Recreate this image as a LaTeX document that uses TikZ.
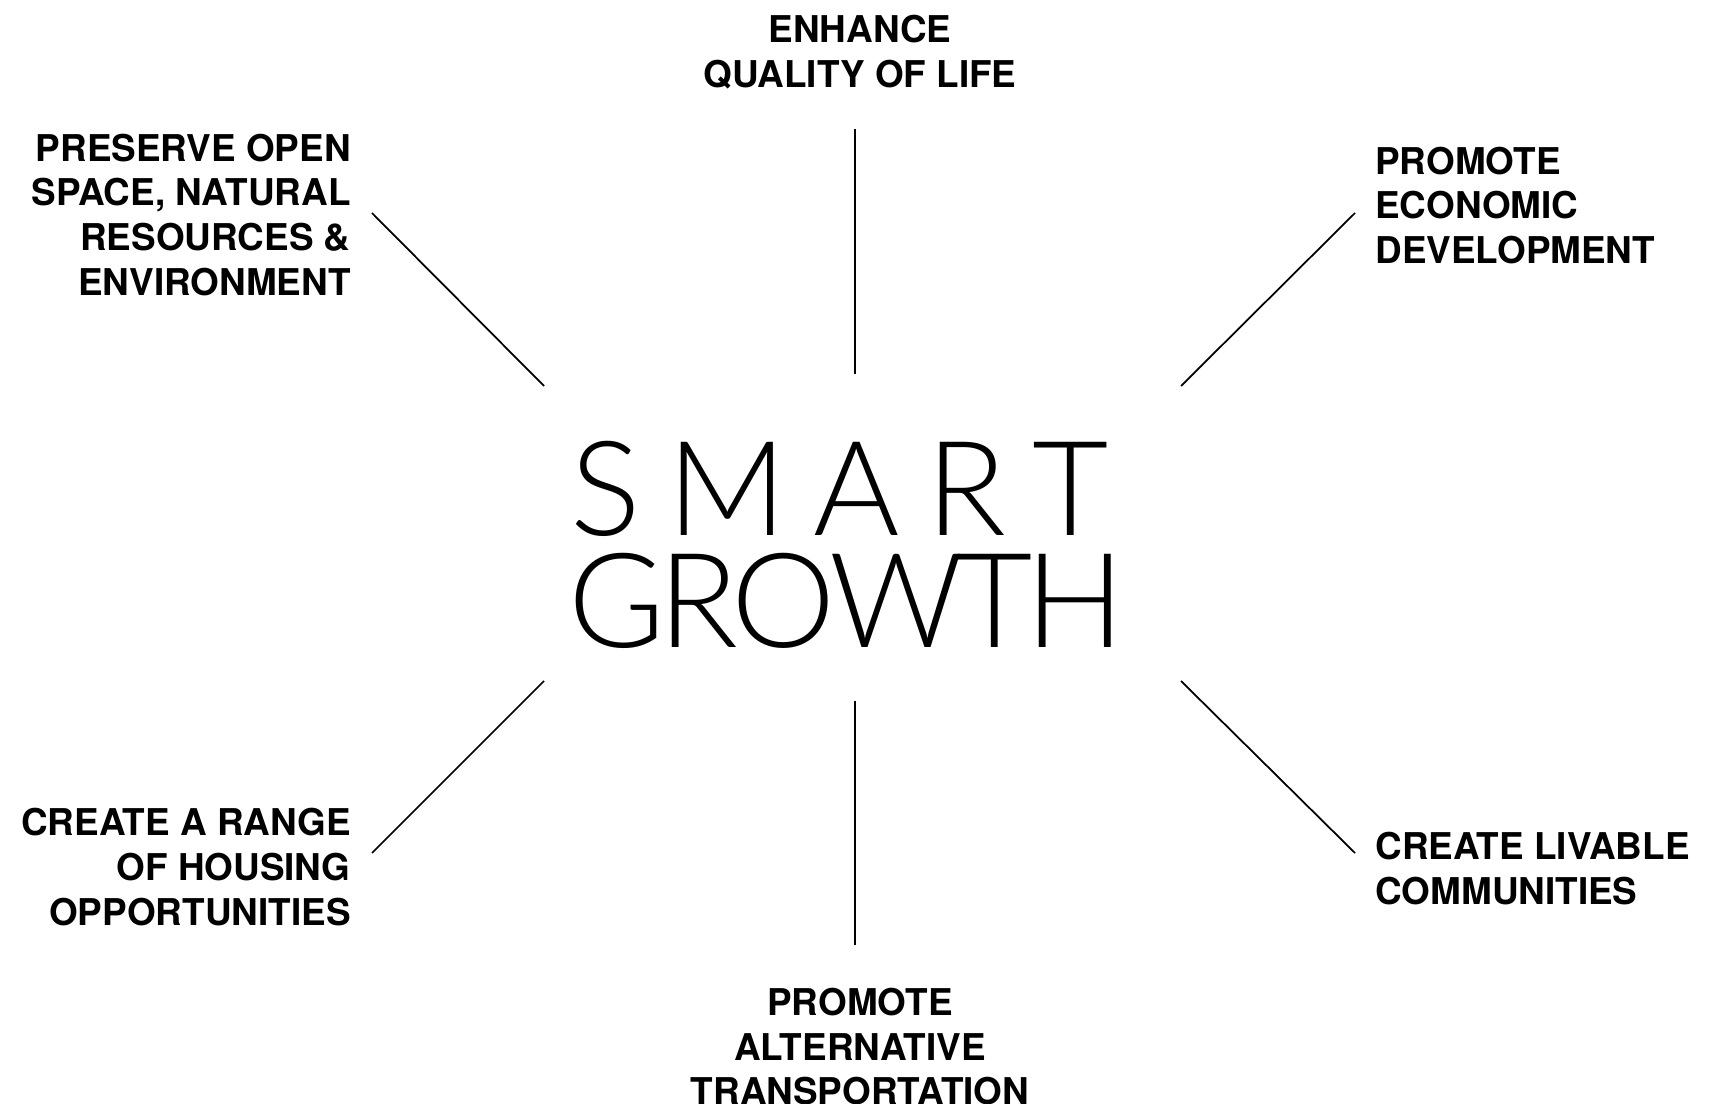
\documentclass[tikz,border=0pt]{standalone}
\usepackage{fontspec}
\setmainfont{TeX Gyre Heros}
\newfontfamily\thinfont{Lato Light}
\newcommand\gsp{\hspace{0pt plus 1fil minus 1fil}}
\begin{document}
\begin{tikzpicture}[x=0.02cm,y=-0.02cm]
\tikzset{
 goal/.style={font=\fontsize{21.0}{25.5}\selectfont\bfseries, inner sep=0pt},
 ray/.style={line width=1pt, black},
 title/.style={font=\thinfont\fontsize{75}{63.5}\selectfont, inner sep=0pt, anchor=base west}
}
\useasboundingbox[fill=white] (0,0) rectangle (1715,1104);
% goals
\node[goal, anchor=north, align=center] (top) at (860,15.3) {ENHANCE\\QUALITY OF LIFE};
\node[goal, anchor=north east, align=right] (ul) at (351,133.4) {PRESERVE OPEN\\SPACE, NATURAL\\RESOURCES \&\\ENVIRONMENT};
\node[goal, anchor=north west, align=left] (ur) at (1375,146.5) {PROMOTE\\ECONOMIC\\DEVELOPMENT};
\node[goal, anchor=north east, align=right] (ll) at (351,808.3) {CREATE A RANGE\\OF HOUSING\\OPPORTUNITIES};
\node[goal, anchor=north west, align=left] (lr) at (1375,832.3) {CREATE LIVABLE\\COMMUNITIES};
\node[goal, anchor=north, align=center] (bot) at (860,987.7) {PROMOTE\\ALTERNATIVE\\TRANSPORTATION};
% centre
\node[title] (smart) at (570,536) {\makebox[306.5pt][s]{S\hfill M\hfill A\hfill R\hfill T}};
\node[title] (growth) at (568,647.5) {\makebox[317pt][s]{G\gsp R\gsp O\gsp W\gsp T\gsp H}};
% rays
\coordinate (t1) at (855,129); \coordinate (t2) at (855,374);
\coordinate (b1) at (855,701); \coordinate (b2) at (855,945);
\coordinate (ula) at (372,213); \coordinate (ulb) at (544,386);
\coordinate (ura) at (1355,213); \coordinate (urb) at (1181,386);
\coordinate (lla) at (544,681); \coordinate (llb) at (372,853);
\coordinate (lra) at (1181,681); \coordinate (lrb) at (1355,853);
\draw[ray] (t1) -- (t2);
\draw[ray] (b1) -- (b2);
\draw[ray] (ula) -- (ulb);
\draw[ray] (ura) -- (urb);
\draw[ray] (lla) -- (llb);
\draw[ray] (lra) -- (lrb);
\end{tikzpicture}
\end{document}
